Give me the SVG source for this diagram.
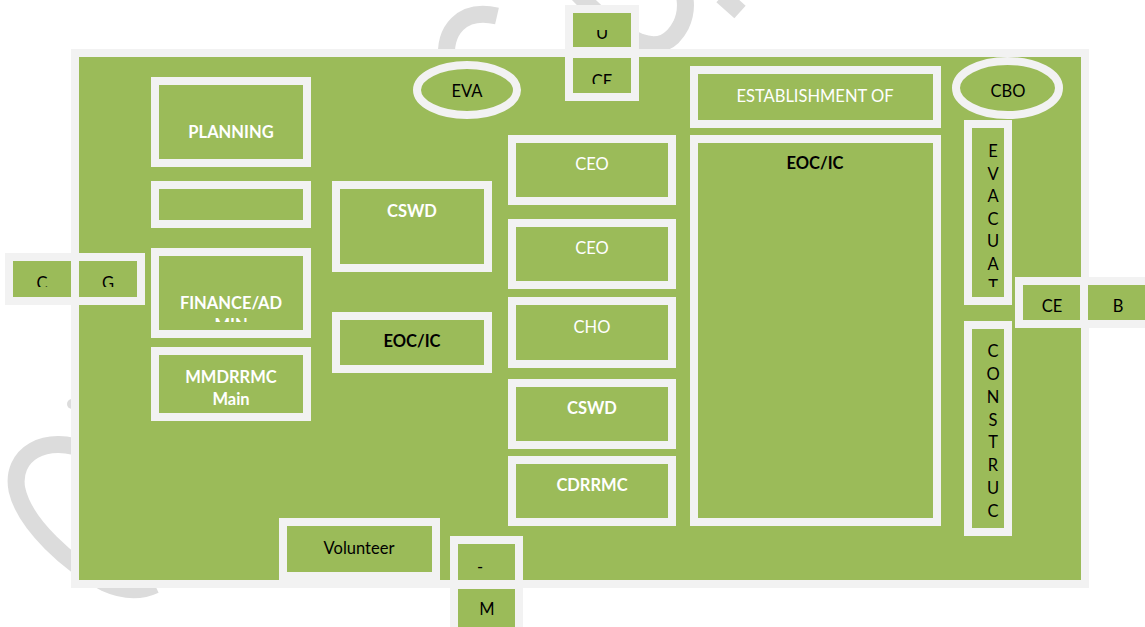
<svg xmlns="http://www.w3.org/2000/svg" width="1145" height="627" viewBox="0 0 1145 627">
<style>
.box{fill:#9bbb59;stroke:#f2f2f2;stroke-width:8}
.wm{fill:none;stroke:#dcdcdc;stroke-width:17}
.t{font-family:Lato,"Liberation Sans",sans-serif;font-size:16.5px;text-anchor:middle}
.w{fill:#ffffff}
.k{fill:#000000}
.b{font-weight:bold}
</style>
<defs>
<clipPath id="clipU"><rect x="573" y="30" width="58" height="20"/></clipPath>
<clipPath id="clipCE"><rect x="573" y="58" width="58" height="26"/></clipPath>
<clipPath id="clipCG"><rect x="0" y="262" width="145" height="25"/></clipPath>
<clipPath id="clipFin"><rect x="159" y="256" width="144" height="66"/></clipPath>
<clipPath id="clipEvac"><rect x="972" y="128" width="32" height="159"/></clipPath>
</defs>
<rect width="1145" height="627" fill="#ffffff"/>
<g id="watermark">
<path class="wm" d="M447 62 C443 30 462 8 497 16"/>
<path class="wm" d="M578 -6 Q612 30 640 42 Q667 52 681 25 Q688 10 684 -6"/>
<path class="wm" d="M722 -4 L740 12" stroke-width="14"/>
<path class="wm" d="M90 452 C45 432 10 455 17 490 C25 525 70 565 105 583 C125 592 140 592 155 585"/>
<circle cx="72" cy="404" r="5" fill="#dcdcdc"/>
</g>
<g id="background"><rect class="box" x="75" y="53" width="1010" height="531"/></g>
<g id="connectors"></g>
<g id="node-u"><rect class="box" x="569" y="9" width="66" height="42"/><text class="t k" x="602" y="39" clip-path="url(#clipU)">U</text></g>
<g id="node-ce-top"><rect class="box" x="569" y="54" width="66" height="43"/><text class="t k" x="602" y="87" clip-path="url(#clipCE)">CE</text></g>
<g id="node-planning"><rect class="box" x="155" y="81" width="152" height="82"/><text class="t w b" x="231" y="138">PLANNING</text></g>
<g id="node-empty"><rect class="box" x="155" y="185" width="152" height="39"/></g>
<g id="node-finance"><rect class="box" x="155" y="252" width="152" height="82"/><text class="t w b" x="231" clip-path="url(#clipFin)"><tspan x="231" y="309">FINANCE/AD</tspan><tspan x="231" y="331">MIN</tspan></text></g>
<g id="node-mmdrrmc"><rect class="box" x="155" y="351" width="152" height="66"/><text class="t w b" x="231"><tspan x="231" y="383">MMDRRMC</tspan><tspan x="231" y="405">Main</tspan></text></g>
<g id="node-c"><rect class="box" x="9" y="257" width="66" height="44"/><text class="t k" x="42" y="289" clip-path="url(#clipCG)">C</text></g>
<g id="node-g"><rect class="box" x="75" y="257" width="66" height="44"/><text class="t k" x="108" y="289" clip-path="url(#clipCG)">G</text></g>
<g id="node-cswd-left"><rect class="box" x="336" y="185" width="152" height="83"/><text class="t w b" x="412" y="217">CSWD</text></g>
<g id="node-eoc-left"><rect class="box" x="336" y="316" width="152" height="53"/><text class="t k b" x="412" y="347">EOC/IC</text></g>
<g id="node-eva"><ellipse class="box" cx="467" cy="90" rx="50" ry="25"/><text class="t k" x="467" y="97">EVA</text></g>
<g id="node-ceo1"><rect class="box" x="512" y="139" width="160" height="62"/><text class="t w" x="592" y="170">CEO</text></g>
<g id="node-ceo2"><rect class="box" x="512" y="223" width="160" height="62"/><text class="t w" x="592" y="254">CEO</text></g>
<g id="node-cho"><rect class="box" x="512" y="301" width="160" height="63"/><text class="t w" x="592" y="333">CHO</text></g>
<g id="node-cswd-mid"><rect class="box" x="512" y="383" width="160" height="62"/><text class="t w b" x="592" y="414">CSWD</text></g>
<g id="node-cdrrmc"><rect class="box" x="512" y="460" width="160" height="62"/><text class="t w b" x="592" y="491">CDRRMC</text></g>
<g id="node-establishment"><rect class="box" x="694" y="70" width="243" height="54"/><text class="t w" x="815" y="102">ESTABLISHMENT OF</text></g>
<g id="node-eoc-big"><rect class="box" x="694" y="139" width="243" height="383"/><text class="t k b" x="815" y="169">EOC/IC</text></g>
<g id="node-cbo"><ellipse class="box" cx="1007.5" cy="88" rx="51.5" ry="27"/><text class="t k" x="1008" y="97">CBO</text></g>
<g id="node-evacuat"><rect class="box" x="968" y="124" width="40" height="177"/>
<text class="t k" clip-path="url(#clipEvac)"><tspan x="993" y="157">E</tspan><tspan x="993" y="179.5">V</tspan><tspan x="993" y="202">A</tspan><tspan x="993" y="224.5">C</tspan><tspan x="993" y="247">U</tspan><tspan x="993" y="269.5">A</tspan><tspan x="993" y="292">T</tspan></text></g>
<g id="node-construc"><rect class="box" x="968" y="325" width="40" height="207"/>
<text class="t k"><tspan x="993" y="357">C</tspan><tspan x="993" y="380">O</tspan><tspan x="993" y="403">N</tspan><tspan x="993" y="426">S</tspan><tspan x="993" y="448">T</tspan><tspan x="993" y="471">R</tspan><tspan x="993" y="494">U</tspan><tspan x="993" y="517">C</tspan></text></g>
<g id="node-ce-right"><rect class="box" x="1019" y="281" width="65" height="43"/><text class="t k" x="1052" y="312">CE</text></g>
<g id="node-b"><rect class="box" x="1084" y="281" width="70" height="43"/><text class="t k" x="1118" y="312">B</text></g>
<g id="node-volunteer"><rect class="box" x="283" y="522" width="153" height="54"/><text class="t k" x="359" y="554">Volunteer</text></g>
<g id="node-dash"><rect class="box" x="454" y="540" width="65" height="44"/><text class="t k" x="480" y="573">-</text></g>
<g id="node-m"><rect class="box" x="454" y="585" width="65" height="46"/><text class="t k" x="487" y="615">M</text></g>
</svg>
